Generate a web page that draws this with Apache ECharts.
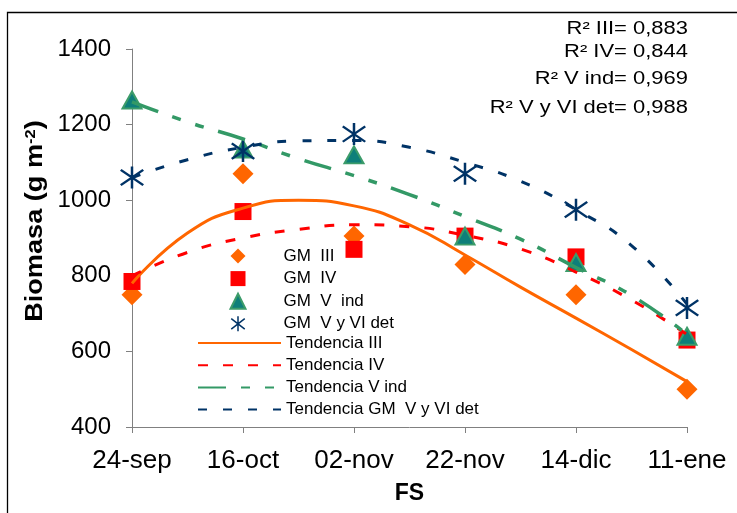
<!DOCTYPE html>
<html>
<head>
<meta charset="utf-8">
<script src="https://cdn.jsdelivr.net/npm/echarts@6/dist/echarts.min.js"></script>
<style>
html,body{margin:0;padding:0;background:#fff;}
#chart{width:737px;height:513px;}
</style>
</head>
<body>
<div id="chart"></div>
<script>
// ---- data ----
const categories = ['24-sep', '16-oct', '02-nov', '22-nov', '14-dic', '11-ene'];
const gmIII = [750, 1070, 905, 830, 750, 500];
const gmIV = [785, 970, 870, 905, 850, 630];
const gmVind = [1265, 1135, 1120, 905, 835, 640];
const gmVVIdet = [1060, 1130, 1175, 1070, 975, 715];
// trend curves read at half-category steps
const trendSteps = [0, 0.5, 1, 1.5, 2, 2.5, 3, 3.5, 4, 4.5, 5];
const trendIII = [780, 913, 979, 1000, 985, 935, 855, 770, 688, 605, 520];
const trendIV = [800, 862, 900, 923, 935, 930, 907, 871, 810, 736, 645];
const trendVind = [1260, 1207, 1162, 1110, 1065, 1015, 957, 897, 822, 748, 645];
const trendVVIdet = [1060, 1107, 1140, 1157, 1158, 1140, 1100, 1050, 975, 880, 725];
const r2Labels = ['R² III= 0,883', 'R² IV= 0,844', 'R² V ind= 0,969', 'R² V y VI det= 0,988'];
const seriesNames = ['GM  III', 'GM  IV', 'GM  V  ind', 'GM  V y VI det',
  'Tendencia III', 'Tendencia IV', 'Tendencia V ind', 'Tendencia GM  V y VI det'];

const asterisk = 'path://M9,0L11,0L11,20L9,20Z M1.61,2.21L19.61,16.21L18.39,17.79L0.39,3.79Z M19.61,3.79L1.61,17.79L0.39,16.21L18.39,2.21Z';

function pts(vals) { return vals.map((v, i) => [i, v]); }
function tpts(vals) { return vals.map((v, i) => [trendSteps[i], v]); }

const FONT = 'Liberation Sans, Arial, sans-serif';
const legendText = {fontSize: 17, color: '#000', fontFamily: FONT};
const chart = echarts.init(document.getElementById('chart'), null, {renderer: 'canvas'});

const r2Y = [20, 43, 70, 99];
const r2Graphics = r2Labels.map((t, i) => ({
  type: 'text', x: 688, y: r2Y[i], scaleX: 1.22,
  style: {text: t, font: '18px ' + FONT, fill: '#000', align: 'right', verticalAlign: 'top'}
}));

chart.setOption({
  animation: false,
  backgroundColor: '#ffffff',
  textStyle: {fontFamily: FONT},
  grid: {left: 132, right: 50, top: 49, bottom: 86},
  xAxis: {
    type: 'value', min: 0, max: 5, interval: 1,
    name: 'FS', nameLocation: 'middle', nameGap: 55,
    nameTextStyle: {fontSize: 23, fontWeight: 'bold', color: '#000', fontFamily: FONT},
    axisLine: {show: true, onZero: false, lineStyle: {color: '#808080', width: 1}},
    axisTick: {show: true, length: 6, lineStyle: {color: '#808080'}},
    axisLabel: {fontSize: 26, color: '#000', margin: 21, fontFamily: FONT,
      formatter: v => categories[Math.round(v)] || ''},
    splitLine: {show: false}
  },
  yAxis: {
    type: 'value', min: 400, max: 1400, interval: 200,
    axisLine: {show: true, lineStyle: {color: '#808080', width: 1}},
    axisTick: {show: true, length: 6, lineStyle: {color: '#808080'}},
    axisLabel: {fontSize: 24, color: '#000', margin: 21, fontFamily: FONT,
      formatter: v => String(v)},
    splitLine: {show: false}
  },
  legend: [
    {
      orient: 'vertical', left: 224.5, top: 242.5, padding: 5,
      itemWidth: 15, itemHeight: 15, itemGap: 5.6,
      textStyle: Object.assign({padding: [0, 0, 0, 33]}, legendText),
      data: seriesNames.slice(0, 4)
    },
    {
      orient: 'vertical', left: 192, top: 329.5, padding: 5,
      itemWidth: 83, itemHeight: 15, itemGap: 5.2,
      textStyle: legendText,
      data: seriesNames.slice(4).map(n => ({name: n, itemStyle: {opacity: 0, color: 'rgba(0,0,0,0)', borderWidth: 0}}))
    }
  ],
  graphic: [
    {type: 'rect', shape: {x: 7.5, y: 12.5, width: 760, height: 520}, style: {fill: 'none', stroke: '#000', lineWidth: 1.3}, silent: true},
    {type: 'text', rotation: Math.PI / 2, x: 36, y: 221, scaleX: 1.18,
      style: {text: '{a|Biomasa (g m}{b|-2}{a|)}', align: 'center', verticalAlign: 'middle',
        rich: {a: {fontSize: 23, fontWeight: 'bold', fontFamily: FONT, fill: '#000'},
               b: {fontSize: 14, fontWeight: 'bold', fontFamily: FONT, fill: '#000', verticalAlign: 'top', padding: [0, 0, 10, 0]}}}}
  ].concat(r2Graphics),
  series: [
    {name: seriesNames[0], type: 'scatter', data: pts(gmIII), symbol: 'diamond', symbolSize: 21,
      itemStyle: {color: '#FF6600', opacity: 1}},
    {name: seriesNames[1], type: 'scatter', data: pts(gmIV), symbol: 'rect', symbolSize: 17,
      itemStyle: {color: '#FF0000', opacity: 1}},
    {name: seriesNames[2], type: 'scatter', data: pts(gmVind), symbol: 'triangle', symbolSize: [19, 17],
      itemStyle: {color: '#0E7F7A', borderColor: '#3C9C6A', borderWidth: 2, opacity: 1}},
    {name: seriesNames[3], type: 'scatter', data: pts(gmVVIdet), symbol: asterisk, symbolSize: [24, 22],
      itemStyle: {color: '#003366', opacity: 1}},
    {name: seriesNames[4], type: 'line', data: tpts(trendIII), smooth: true, showSymbol: false, symbol: 'none',
      lineStyle: {color: '#FF6600', width: 3, type: 'solid'}, itemStyle: {color: '#FF6600'}},
    {name: seriesNames[5], type: 'line', data: tpts(trendIV), smooth: true, showSymbol: false, symbol: 'none',
      lineStyle: {color: '#FF0000', width: 3, type: [10, 15]}, itemStyle: {color: '#FF0000'}},
    {name: seriesNames[6], type: 'line', data: tpts(trendVind), smooth: true, showSymbol: false, symbol: 'none',
      lineStyle: {color: '#339966', width: 3.5, type: [28, 15, 9, 15, 9, 15]}, itemStyle: {color: '#339966'}},
    {name: seriesNames[7], type: 'line', data: tpts(trendVVIdet), smooth: true, showSymbol: false, symbol: 'none',
      lineStyle: {color: '#003366', width: 3, type: [9, 16]}, itemStyle: {color: '#003366'}}
  ]
});
</script>
</body>
</html>
